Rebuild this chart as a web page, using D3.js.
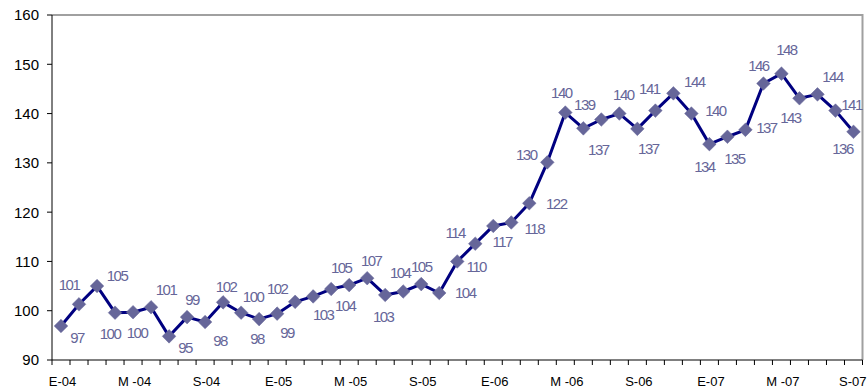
<!DOCTYPE html>
<html>
<head>
<meta charset="utf-8">
<script src="https://cdn.jsdelivr.net/npm/d3@7"></script>
<style>
  html, body { margin: 0; padding: 0; background: #fff; }
  svg { display: block; font-family: "Liberation Sans", Arial, sans-serif; }
</style>
</head>
<body>
<svg id="chart" width="867" height="389"></svg>
<script>
// Monthly index, January 2004 – September 2007
const values = [
  96.9, 101.3, 105.0, 99.6, 99.7, 100.7, 94.8, 98.7, 97.7, 101.7, 99.6, 98.3,
  99.4, 101.8, 102.9, 104.4, 105.2, 106.6, 103.2, 103.9, 105.4, 103.6, 110.0, 113.6,
  117.2, 117.9, 121.8, 130.1, 140.2, 137.0, 138.8, 140.0, 136.9, 140.6, 144.1, 140.0,
  133.8, 135.3, 136.7, 146.1, 148.1, 143.1, 143.9, 140.6, 136.3
];

// Axis labels: one every four months
const tickLabels = ["E-04", "M -04", "S-04", "E-05", "M -05", "S-05",
                    "E-06", "M -06", "S-06", "E-07", "M -07", "S-07"];
const tickStep = 4;
const yTicks = [90, 100, 110, 120, 130, 140, 150, 160];

// Placement of each value label relative to its marker (label centre, px)
const labelOffset = [
  [16, 12], [-10, -20], [20, -10], [-5, 21], [4, 20], [15, -18], [16, 11], [5, -18],
  [15, 19], [3, -16], [12, -16], [-2, 20], [10, 19], [-18, -13], [10, 18], [14, 17],
  [-8, -17], [4, -18], [-2, 22], [-3, -19], [0, -18], [26, 0], [19, 5], [-20, -11],
  [9, 16], [23, 6], [27, 0], [-21, -8], [-4, -20], [15, 21], [-17, -15], [4, -19],
  [11, 20], [-6, -22], [21, -12], [24, -3], [-5, 22], [7, 22], [21, -2], [-5, -18],
  [5, -24], [-9, 19], [15, -18], [16, -6], [-11, 17]
];

const svg = d3.select("#chart");
const width = 867;
const plotLeft = 52, plotRight = 862.5, plotTop = 15, plotBottom = 360;

const x = d3.scaleBand()
  .domain(d3.range(values.length))
  .range([plotLeft, plotRight])
  .padding(0);
const y = d3.scaleLinear().domain([90, 160]).range([plotBottom, plotTop]);
const cx = i => x(i) + x.bandwidth() / 2;

// Plot frame: grey top and right edges
svg.append("path")
  .attr("d", `M${plotLeft},${y(160)}H${plotRight}V${plotBottom}`)
  .attr("fill", "none")
  .attr("stroke", "#a0a0a0")
  .attr("stroke-width", 2);

// Y axis
const yAxis = svg.append("g");
yAxis.append("line")
  .attr("x1", plotLeft).attr("x2", plotLeft)
  .attr("y1", y(160)).attr("y2", plotBottom)
  .attr("stroke", "#000").attr("stroke-width", 1);
yAxis.selectAll("line.tick").data(yTicks).join("line")
  .attr("class", "tick")
  .attr("x1", plotLeft - 5).attr("x2", plotLeft)
  .attr("y1", d => y(d)).attr("y2", d => y(d))
  .attr("stroke", "#000");
yAxis.selectAll("text").data(yTicks).join("text")
  .attr("x", 39)
  .attr("y", d => y(d))
  .attr("dy", "0.36em")
  .attr("text-anchor", "end")
  .attr("font-size", 15)
  .attr("fill", "#000")
  .text(d => d);

// X axis with ticks between categories
const xAxis = svg.append("g");
xAxis.append("line")
  .attr("x1", plotLeft).attr("x2", plotRight)
  .attr("y1", plotBottom).attr("y2", plotBottom)
  .attr("stroke", "#000");
xAxis.selectAll("line.tick").data(d3.range(values.length + 1)).join("line")
  .attr("class", "tick")
  .attr("x1", i => i < values.length ? x(i) : plotRight)
  .attr("x2", i => i < values.length ? x(i) : plotRight)
  .attr("y1", plotBottom).attr("y2", plotBottom + 5)
  .attr("stroke", "#000");
xAxis.selectAll("text").data(tickLabels).join("text")
  .attr("y", 386)
  .attr("text-anchor", "middle")
  .attr("font-size", 13)
  .attr("fill", "#000")
  .text(d => d)
  .attr("x", function (d, k) {
    // keep the last label inside the page edge
    const half = this.getComputedTextLength() / 2;
    return Math.min(cx(k * tickStep) + 1.5, width - 0.5 - half);
  });

// Series line
const line = d3.line().x((d, i) => cx(i)).y(d => y(d));
svg.append("path")
  .datum(values)
  .attr("d", line)
  .attr("fill", "none")
  .attr("stroke", "#000080")
  .attr("stroke-width", 3)
  .attr("stroke-linejoin", "round");

// Diamond markers
const diamond = d3.symbol().type(d3.symbolDiamond2).size(118);
svg.append("g").selectAll("path").data(values).join("path")
  .attr("transform", (d, i) => `translate(${cx(i)},${y(d)})`)
  .attr("d", diamond)
  .attr("fill", "#666699")
  .attr("stroke", "#666699")
  .attr("stroke-width", 0.5);

// Value labels
const fmt = d3.format(".0f");
svg.append("g").selectAll("text").data(values).join("text")
  .attr("x", (d, i) => cx(i) + labelOffset[i][0])
  .attr("y", (d, i) => y(d) + labelOffset[i][1])
  .attr("dy", "0.36em")
  .attr("text-anchor", "middle")
  .attr("font-size", 15)
  .attr("letter-spacing", "-1.5px")
  .attr("fill", "#666699")
  .text(d => fmt(d));
</script>
</body>
</html>
